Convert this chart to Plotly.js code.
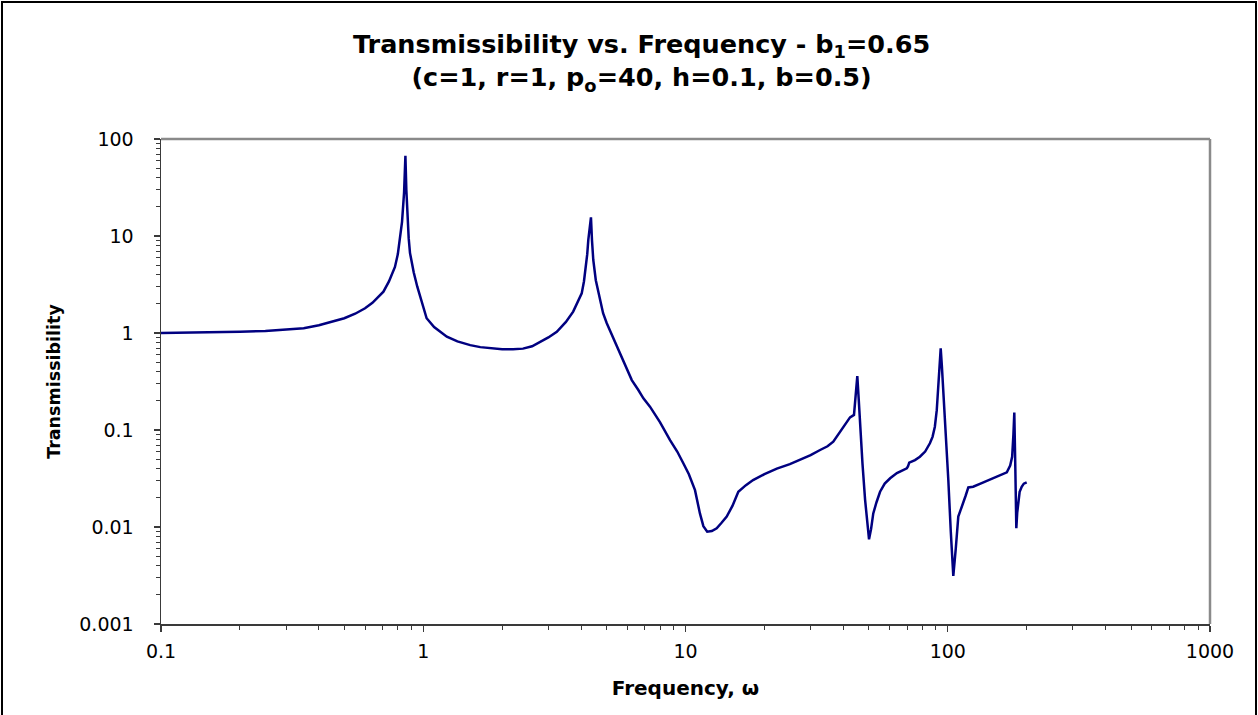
<!DOCTYPE html>
<html>
<head>
<meta charset="utf-8">
<script src="https://cdn.plot.ly/plotly-3.0.1.min.js"></script>
<style>
  html, body { margin: 0; padding: 0; background: #fff; }
  #wrap { position: relative; width: 1258px; height: 715px; overflow: hidden; }
  #chart { position: absolute; left: 0; top: 0; width: 1258px; height: 715px; }
  #frame { position: absolute; left: 1px; top: 1px; width: 1252px; height: 730px;
           border: 2px solid #000; pointer-events: none; }
</style>
</head>
<body>
<div id="wrap">
  <div id="chart"></div>
  <div id="frame"></div>
</div>
<script>
// Frequency (omega) values
var freq = [0.1, 0.15, 0.2, 0.25, 0.3, 0.35, 0.4, 0.44, 0.5, 0.55, 0.6, 0.64, 0.68, 0.705, 0.74, 0.78, 0.8, 0.815, 0.83, 0.845, 0.855, 0.862, 0.869, 0.88, 0.89, 0.92, 0.949, 0.99, 1.03, 1.1, 1.23, 1.35, 1.51, 1.65, 1.8, 2.0, 2.2, 2.4, 2.6, 2.79, 3.0, 3.23, 3.5, 3.73, 3.9, 4.02, 4.1, 4.17, 4.22, 4.26, 4.31, 4.36, 4.40, 4.45, 4.55, 4.72, 4.85, 5.01, 5.3, 5.5, 5.79, 6.24, 6.6, 6.91, 7.32, 8.0, 8.73, 9.3, 9.81, 10.3, 10.87, 11.35, 11.7, 12.1, 12.6, 13.15, 13.7, 14.36, 15.1, 15.9, 17, 18.1, 20, 22.3, 25, 27.3, 30, 32.6, 34.8, 36.6, 38, 39.4, 41, 42.4, 43.9, 44.6, 45.2, 45.8, 46.3, 47.3, 48.4, 49.3, 50.1, 51, 52.0, 53.5, 55.2, 57.5, 60.3, 64, 67.7, 69.8, 70.5, 71.3, 75, 78.3, 82, 85.5, 87.5, 89.3, 90.8, 92.0, 93.2, 94.0, 95.0, 96.2, 98.3, 100.5, 102.7, 105, 107.3, 109.7, 112, 114.6, 117, 119.8, 125, 132.6, 140, 149, 158, 168, 173, 176, 178, 179.4, 181, 182.6, 184, 185.8, 188, 191.4, 195, 200];
// Transmissibility values
var trans = [1.0, 1.01, 1.03, 1.05, 1.08, 1.12, 1.2, 1.28, 1.42, 1.58, 1.8, 2.05, 2.4, 2.67, 3.4, 4.8, 6.5, 9.1, 14, 28, 67, 30, 17, 9.5, 6.7, 4.2, 3.0, 2.0, 1.42, 1.15, 0.917, 0.82, 0.75, 0.715, 0.695, 0.68, 0.68, 0.69, 0.73, 0.81, 0.9, 1.03, 1.3, 1.66, 2.1, 2.56, 3.4, 4.8, 6.5, 9.1, 12.5, 15.6, 9, 5.66, 3.5, 2.19, 1.6, 1.26, 0.9, 0.72, 0.527, 0.327, 0.26, 0.212, 0.174, 0.12, 0.0788, 0.06, 0.0454, 0.035, 0.024, 0.0138, 0.0102, 0.00895, 0.0091, 0.0097, 0.011, 0.0128, 0.0165, 0.0231, 0.027, 0.0305, 0.035, 0.040, 0.0445, 0.049, 0.055, 0.0622, 0.068, 0.0759, 0.088, 0.104, 0.122, 0.135, 0.143, 0.25, 0.36, 0.2, 0.117, 0.045, 0.019, 0.011, 0.00747, 0.0095, 0.0138, 0.018, 0.0231, 0.028, 0.0318, 0.036, 0.0387, 0.0403, 0.042, 0.046, 0.049, 0.053, 0.06, 0.073, 0.085, 0.108, 0.16, 0.258, 0.45, 0.695, 0.45, 0.258, 0.09, 0.0305, 0.009, 0.00313, 0.006, 0.0128, 0.015, 0.0175, 0.021, 0.0256, 0.026, 0.0279, 0.0298, 0.0318, 0.034, 0.0366, 0.043, 0.053, 0.09, 0.151, 0.04, 0.0097, 0.014, 0.019, 0.023, 0.026, 0.028, 0.0289];

var xTickVals = [0.1, 1, 10, 100, 1000];
var xTickText = ['0.1', '1', '10', '100', '1000'];
var yTickVals = [0.001, 0.01, 0.1, 1, 10, 100];
var yTickText = ['0.001', '0.01', '0.1', '1', '10', '100'];

function minorTicks(lo, hi) {
  var out = [];
  for (var d = lo; d < hi; d++) {
    for (var k = 2; k <= 9; k++) out.push(k * Math.pow(10, d));
  }
  return out;
}

var FONT = 'DejaVu Sans, Liberation Sans, Arial, sans-serif';
var axisColor = '#3a3a3a';

var trace = {
  x: freq, y: trans, type: 'scatter', mode: 'lines',
  line: { color: '#000080', width: 2.5 },
  hoverinfo: 'skip'
};

var layout = {
  width: 1258, height: 715,
  margin: { l: 161, r: 48, t: 139, b: 91, pad: 0 },
  paper_bgcolor: '#ffffff', plot_bgcolor: '#ffffff',
  showlegend: false,
  title: {
    text: '<b>Transmissibility vs. Frequency - b<sub>1</sub>=0.65</b><br><b>(c=1, r=1, p<sub>o</sub>=40, h=0.1, b=0.5)</b>',
    font: { family: FONT, size: 25.5, color: '#000' },
    x: 0.51, xref: 'container', xanchor: 'center',
    y: 1 - 53 / 715, yref: 'container', yanchor: 'middle'
  },
  xaxis: {
    type: 'log', range: [-1, 3],
    tickmode: 'array', tickvals: xTickVals, ticktext: xTickText,
    ticks: 'outside', ticklen: 6, tickwidth: 1.2, tickcolor: axisColor,
    minor: { tickmode: 'array', tickvals: minorTicks(-1, 3), ticks: 'outside', ticklen: 4, tickwidth: 1, tickcolor: axisColor, showgrid: false },
    showline: true, linecolor: axisColor, linewidth: 1.5,
    showgrid: false, zeroline: false,
    tickfont: { family: FONT, size: 19, color: '#000' },
    ticklabelstandoff: 4,
    title: { text: '<b>Frequency, ω</b>', font: { family: FONT, size: 20, color: '#000' }, standoff: 19 }
  },
  yaxis: {
    type: 'log', range: [-3, 2],
    tickmode: 'array', tickvals: yTickVals, ticktext: yTickText,
    ticks: 'outside', ticklen: 6, tickwidth: 1.2, tickcolor: axisColor,
    minor: { tickmode: 'array', tickvals: minorTicks(-3, 2), ticks: 'outside', ticklen: 4, tickwidth: 1, tickcolor: axisColor, showgrid: false },
    showline: true, linecolor: axisColor, linewidth: 1.5,
    showgrid: false, zeroline: false,
    tickfont: { family: FONT, size: 19, color: '#000' },
    ticklabelstandoff: 16,
    title: { text: '<b>Transmissibility</b>', font: { family: FONT, size: 17.5, color: '#000' }, standoff: 14 }
  },
  shapes: [
    { type: 'line', xref: 'paper', yref: 'paper', x0: 0, x1: 1, y0: 1, y1: 1, line: { color: '#8a8a8a', width: 2.5 } },
    { type: 'line', xref: 'paper', yref: 'paper', x0: 1, x1: 1, y0: 0, y1: 1, line: { color: '#8a8a8a', width: 2.5 } }
  ]
};

Plotly.newPlot('chart', [trace], layout, { displayModeBar: false, staticPlot: true });
</script>
</body>
</html>
